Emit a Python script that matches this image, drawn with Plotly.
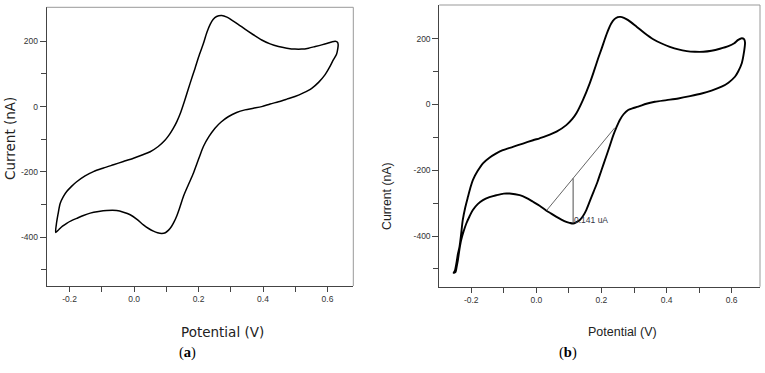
import plotly.graph_objects as go

# ---------------- data: panel (a) ----------------
a_potential = [-0.243, -0.241, -0.236, -0.229, -0.219, -0.209, -0.194, -0.178, -0.152, -0.126,
               -0.095, -0.064, -0.033, -0.002, 0.025, 0.050, 0.075, 0.095, 0.110, 0.122,
               0.133, 0.143, 0.159, 0.174, 0.189, 0.203, 0.215, 0.226, 0.236, 0.245,
               0.256, 0.272, 0.288, 0.303, 0.323, 0.344, 0.370, 0.396, 0.422, 0.448,
               0.474, 0.499, 0.520, 0.541, 0.562, 0.582, 0.600, 0.613, 0.624, 0.631,
               0.633, 0.632, 0.628, 0.618, 0.606, 0.592, 0.573, 0.551, 0.525, 0.499,
               0.474, 0.448, 0.422, 0.396, 0.370, 0.344, 0.318, 0.292, 0.270, 0.251,
               0.232, 0.215, 0.204, 0.194, 0.184, 0.168, 0.153, 0.143, 0.133, 0.124,
               0.116, 0.107, 0.097, 0.086, 0.073, 0.060, 0.045, 0.029, 0.009, -0.012,
               -0.033, -0.054, -0.085, -0.110, -0.136, -0.157, -0.178, -0.194, -0.209, -0.222,
               -0.233, -0.243]
a_current = [-385, -360, -330, -296, -275, -260, -244, -230, -212, -199,
             -188, -178, -168, -158, -148, -138, -122, -104, -85, -66,
             -45, -22, 25, 72, 117, 160, 193, 228, 252, 267,
             276, 279, 274, 265, 252, 237, 220, 204, 192, 184,
             179, 176, 176, 179, 184, 189, 194, 198, 200, 197,
             190, 178, 160, 143, 120, 97, 75, 56, 42, 31,
             23, 15, 8, 0, -5, -10, -18, -31, -47, -66,
             -92, -122, -150, -177, -204, -240, -275, -305, -333, -353,
             -367, -378, -386, -388, -386, -381, -373, -362, -345, -331,
             -323, -318, -318, -321, -326, -333, -342, -349, -357, -366,
             -376, -385]

# ---------------- data: panel (b) ----------------
b_potential = [-0.254, -0.250, -0.245, -0.241, -0.236, -0.231, -0.226, -0.218, -0.210, -0.203,
               -0.195, -0.180, -0.164, -0.144, -0.123, -0.103, -0.072, -0.041, -0.010, 0.010,
               0.031, 0.062, 0.092, 0.110, 0.123, 0.143, 0.164, 0.178, 0.190, 0.200,
               0.210, 0.220, 0.230, 0.240, 0.250, 0.258, 0.269, 0.282, 0.308, 0.333,
               0.359, 0.385, 0.410, 0.436, 0.462, 0.487, 0.513, 0.538, 0.564, 0.590,
               0.608, 0.620, 0.631, 0.638, 0.641, 0.638, 0.631, 0.620, 0.610, 0.590,
               0.569, 0.538, 0.508, 0.472, 0.436, 0.400, 0.364, 0.338, 0.313, 0.295,
               0.282, 0.268, 0.256, 0.246, 0.236, 0.226, 0.214, 0.200, 0.188, 0.176,
               0.164, 0.153, 0.143, 0.133, 0.123, 0.113, 0.102, 0.092, 0.077, 0.062,
               0.046, 0.031, 0.010, -0.010, -0.031, -0.051, -0.082, -0.100, -0.123, -0.144,
               -0.164, -0.180, -0.195, -0.205, -0.215, -0.223, -0.231, -0.236, -0.241, -0.245,
               -0.248, -0.254]
b_current = [-512, -505, -480, -455, -433, -395, -352, -312, -281, -255,
             -230, -202, -179, -162, -149, -139, -129, -119, -109, -103,
             -96, -83, -63, -45, -27, 13, 64, 104, 140, 168,
             197, 224, 246, 259, 265, 266, 263, 256, 236, 216,
             198, 185, 175, 167, 162, 160, 160, 163, 169, 177,
             186, 196, 201, 198, 188, 160, 125, 100, 84, 66,
             54, 42, 33, 25, 18, 13, 8, 2, -7, -12,
             -17, -30, -48, -70, -95, -125, -160, -200, -235, -265,
             -295, -322, -340, -352, -358, -362, -360, -357, -350, -342,
             -332, -323, -308, -296, -284, -276, -271, -271, -276, -282,
             -291, -303, -321, -340, -362, -385, -413, -440, -474, -495,
             -509, -512]

# peak-height construction in (b)
baseline_x = [0.031, 0.241]
baseline_y = [-323, -71]
peak_x = [0.113, 0.113]
peak_y = [-225, -362]
peak_label = "0.141 uA"

# ticks
x_ticks = [-0.2, 0.0, 0.2, 0.4, 0.6]
x_ticklabels = ["-0.2", "0.0", "0.2", "0.4", "0.6"]
x_minor = [-0.1, 0.1, 0.3, 0.5]
y_ticks = [-400, -200, 0, 200]
y_ticklabels = ["-400", "-200", "0", "200"]
y_minor = [-500, -300, -100, 100]

W, H = 765, 373
fig = go.Figure()

fig.add_trace(go.Scatter(x=a_potential, y=a_current, mode="lines",
                         line=dict(color="black", width=1.5, shape="spline", smoothing=0.8),
                         xaxis="x", yaxis="y", showlegend=False))
fig.add_trace(go.Scatter(x=b_potential, y=b_current, mode="lines",
                         line=dict(color="black", width=1.9, shape="spline", smoothing=0.8),
                         xaxis="x2", yaxis="y2", showlegend=False))
fig.add_trace(go.Scatter(x=baseline_x, y=baseline_y, mode="lines",
                         line=dict(color="#222", width=0.7),
                         xaxis="x2", yaxis="y2", showlegend=False))
fig.add_trace(go.Scatter(x=peak_x, y=peak_y, mode="lines",
                         line=dict(color="#222", width=0.8),
                         xaxis="x2", yaxis="y2", showlegend=False))

tickfont = dict(family="Liberation Sans, Arial", size=8.5, color="#333")
def xaxis_cfg(rng, dom, anchor):
    return dict(domain=dom, range=rng, anchor=anchor, tickmode="array",
                tickvals=x_ticks, ticktext=x_ticklabels, ticks="outside", ticklen=5,
                tickcolor="#444", tickwidth=1, showline=True, linecolor="#444", linewidth=1,
                showgrid=False, zeroline=False, tickfont=tickfont,
                minor=dict(tickvals=x_minor, ticks="outside", ticklen=5, tickcolor="#444",
                           tickwidth=1, showgrid=False))
def yaxis_cfg(rng, dom, anchor):
    return dict(domain=dom, range=rng, anchor=anchor, tickmode="array",
                tickvals=y_ticks, ticktext=y_ticklabels, ticks="outside", ticklen=6,
                tickcolor="#444", tickwidth=1, showline=True, linecolor="#444", linewidth=1,
                showgrid=False, zeroline=False, tickfont=tickfont,
                minor=dict(tickvals=y_minor, ticks="outside", ticklen=5, tickcolor="#444",
                           tickwidth=1, showgrid=False))

fig.update_layout(
    width=W, height=H, margin=dict(l=0, r=0, t=0, b=0),
    paper_bgcolor="white", plot_bgcolor="white",
    xaxis=xaxis_cfg([-0.271, 0.680], [46.7 / W, 353.3 / W], "y"),
    yaxis=yaxis_cfg([-549, 304], [1 - 286 / H, 1 - 7.3 / H], "x"),
    xaxis2=xaxis_cfg([-0.298, 0.687], [439.3 / W, 760 / W], "y2"),
    yaxis2=yaxis_cfg([-554, 302], [1 - 286.7 / H, 1 - 5 / H], "x2"),
)

# light top/right frame lines
for xr, yr in (("x", "y"), ("x2", "y2")):
    fig.add_shape(type="line", xref=f"{xr} domain", yref=f"{yr} domain", x0=0, x1=1, y0=1, y1=1,
                  line=dict(color="#999", width=1))
    fig.add_shape(type="line", xref=f"{xr} domain", yref=f"{yr} domain", x0=1, x1=1, y0=0, y1=1,
                  line=dict(color="#999", width=1))

def px_ann(text, x, y, size, family, angle=0, color="#222"):
    fig.add_annotation(text=text, x=x / W, y=1 - y / H, xref="paper", yref="paper",
                       showarrow=False, textangle=angle, xanchor="center", yanchor="middle",
                       font=dict(size=size, family=family, color=color))

px_ann("Current (nA)", 10, 139, 13.5, "DejaVu Sans", -90)
px_ann("Potential (V)", 222.5, 332, 13.5, "DejaVu Sans")
px_ann("Current (nA)", 387, 196, 12.3, "Liberation Sans, Arial", -90)
px_ann("Potential (V)", 622, 332, 12.5, "Liberation Sans, Arial")
px_ann("(<b>a</b>)", 187.7, 352.5, 14.5, "Liberation Serif", 0, "black")
px_ann("(<b>b</b>)", 568, 352.5, 14.5, "Liberation Serif", 0, "black")

fig.add_annotation(text=peak_label, x=peak_x[0], y=-350, xref="x2", yref="y2",
                   showarrow=False, xanchor="left", yanchor="middle", xshift=-1,
                   font=dict(size=8.5, family="Liberation Sans, Arial", color="#334"))

fig.write_html("out.html")
